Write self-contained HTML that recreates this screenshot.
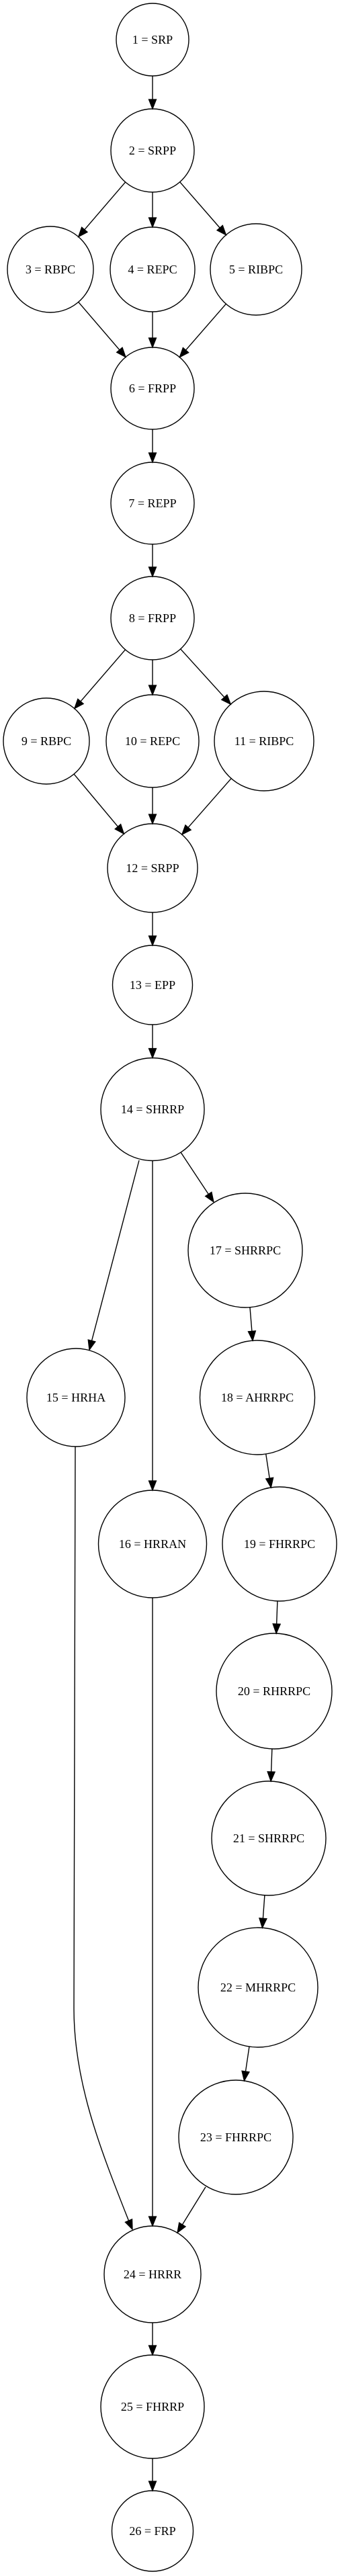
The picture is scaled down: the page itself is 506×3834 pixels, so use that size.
<!DOCTYPE html>
<html><head><meta charset="utf-8"><style>
html,body{margin:0;padding:0;background:#fff;}
svg{display:block;}
text{font-family:"Liberation Serif",serif;font-size:18px;text-anchor:middle;fill:#000;}
</style></head><body>
<svg id="g" width="506" height="3834" viewBox="0 0 506 3834" xmlns="http://www.w3.org/2000/svg"></svg>
<script>
var N={
1:[227,59,54,54,"1 = SRP"],
2:[227,224,62,62,"2 = SRPP"],
3:[75,401,64,64,"3 = RBPC"],
4:[227,401,63,63,"4 = REPC"],
5:[381,401,68,68,"5 = RIBPC"],
6:[227,578,62,61,"6 = FRPP"],
7:[227,749,62,61,"7 = REPP"],
8:[227,920,62,62,"8 = FRPP"],
9:[69,1103,64,64,"9 = RBPC"],
10:[227,1103,69,69,"10 = REPC"],
11:[393,1103,74,74,"11 = RIBPC"],
12:[227,1292,67,66,"12 = SRPP"],
13:[227,1466,59.5,59,"13 = EPP"],
14:[227,1651,77,76.5,"14 = SHRRP"],
15:[113,2080,73,73,"15 = HRHA"],
16:[227,2298,80.5,80,"16 = HRRAN"],
17:[365,1861,85,85,"17 = SHRRPC"],
18:[383,2080,85.5,85,"18 = AHRRPC"],
19:[416,2298,85,85,"19 = FHRRPC"],
20:[408,2517,86,86,"20 = RHRRPC"],
21:[400,2736,85,85,"21 = SHRRPC"],
22:[384,2958,89,89,"22 = MHRRPC"],
23:[351,3181,85,85,"23 = FHRRPC"],
24:[227,3385,72,72,"24 = HRRR"],
25:[227,3582,77,77,"25 = FHRRP"],
26:[227,3767,60.5,60,"26 = FRP"]
};
var E=[[1,2],[2,3],[2,4],[2,5],[3,6],[4,6],[5,6],[6,7],[7,8],[8,9],[8,10],[8,11],[9,12],[10,12],[11,12],[12,13],[13,14],
[14,16],[17,18],[18,19],[19,20],[20,21],[21,22],[22,23],[16,24],[24,25],[25,26]];
var s='';
function bnd(n,dx,dy){var d=Math.sqrt(dx*dx/(n[2]*n[2])+dy*dy/(n[3]*n[3]));return [n[0]+dx/d,n[1]+dy/d];}
function arrow(x1,y1,tx,ty){
 var dx=tx-x1,dy=ty-y1,L=Math.sqrt(dx*dx+dy*dy),ux=dx/L,uy=dy/L,al=14,aw=5.5;
 var bx=tx-ux*al,by=ty-uy*al;
 s+='<polygon points="'+tx+','+ty+' '+(bx-uy*aw)+','+(by+ux*aw)+' '+(bx+uy*aw)+','+(by-ux*aw)+'" fill="#000" stroke="#000" stroke-width="1.3"/>';
 return [bx,by];
}
function line(x1,y1,tx,ty){var b=arrow(x1,y1,tx,ty);s+='<line x1="'+x1+'" y1="'+y1+'" x2="'+b[0]+'" y2="'+b[1]+'" stroke="#000" stroke-width="1.4"/>';}
E.forEach(function(e){var a=N[e[0]],b=N[e[1]];var dx=b[0]-a[0],dy=b[1]-a[1];
 var p=bnd(a,dx,dy),q=bnd(b,-dx,-dy);line(p[0],p[1],q[0],q[1]);});
line(207,1727,133,2009);
line(269,1715,318,1789);
line(306,3255,264,3323);
// curved 15->24
var b=arrow(185,3290,197,3318);
s+='<path d="M112,2153 L110,2990 C110,3100 150,3200 '+b[0]+','+b[1]+'" fill="none" stroke="#000" stroke-width="1.4"/>';
for(var k in N){var n=N[k];
 s+='<ellipse cx="'+n[0]+'" cy="'+n[1]+'" rx="'+n[2]+'" ry="'+n[3]+'" fill="none" stroke="#000" stroke-width="1.4"/>';
 s+='<text x="'+n[0]+'" y="'+(n[1]+6)+'">'+n[4]+'</text>';}
document.getElementById('g').innerHTML=s;
</script>
</body></html>
